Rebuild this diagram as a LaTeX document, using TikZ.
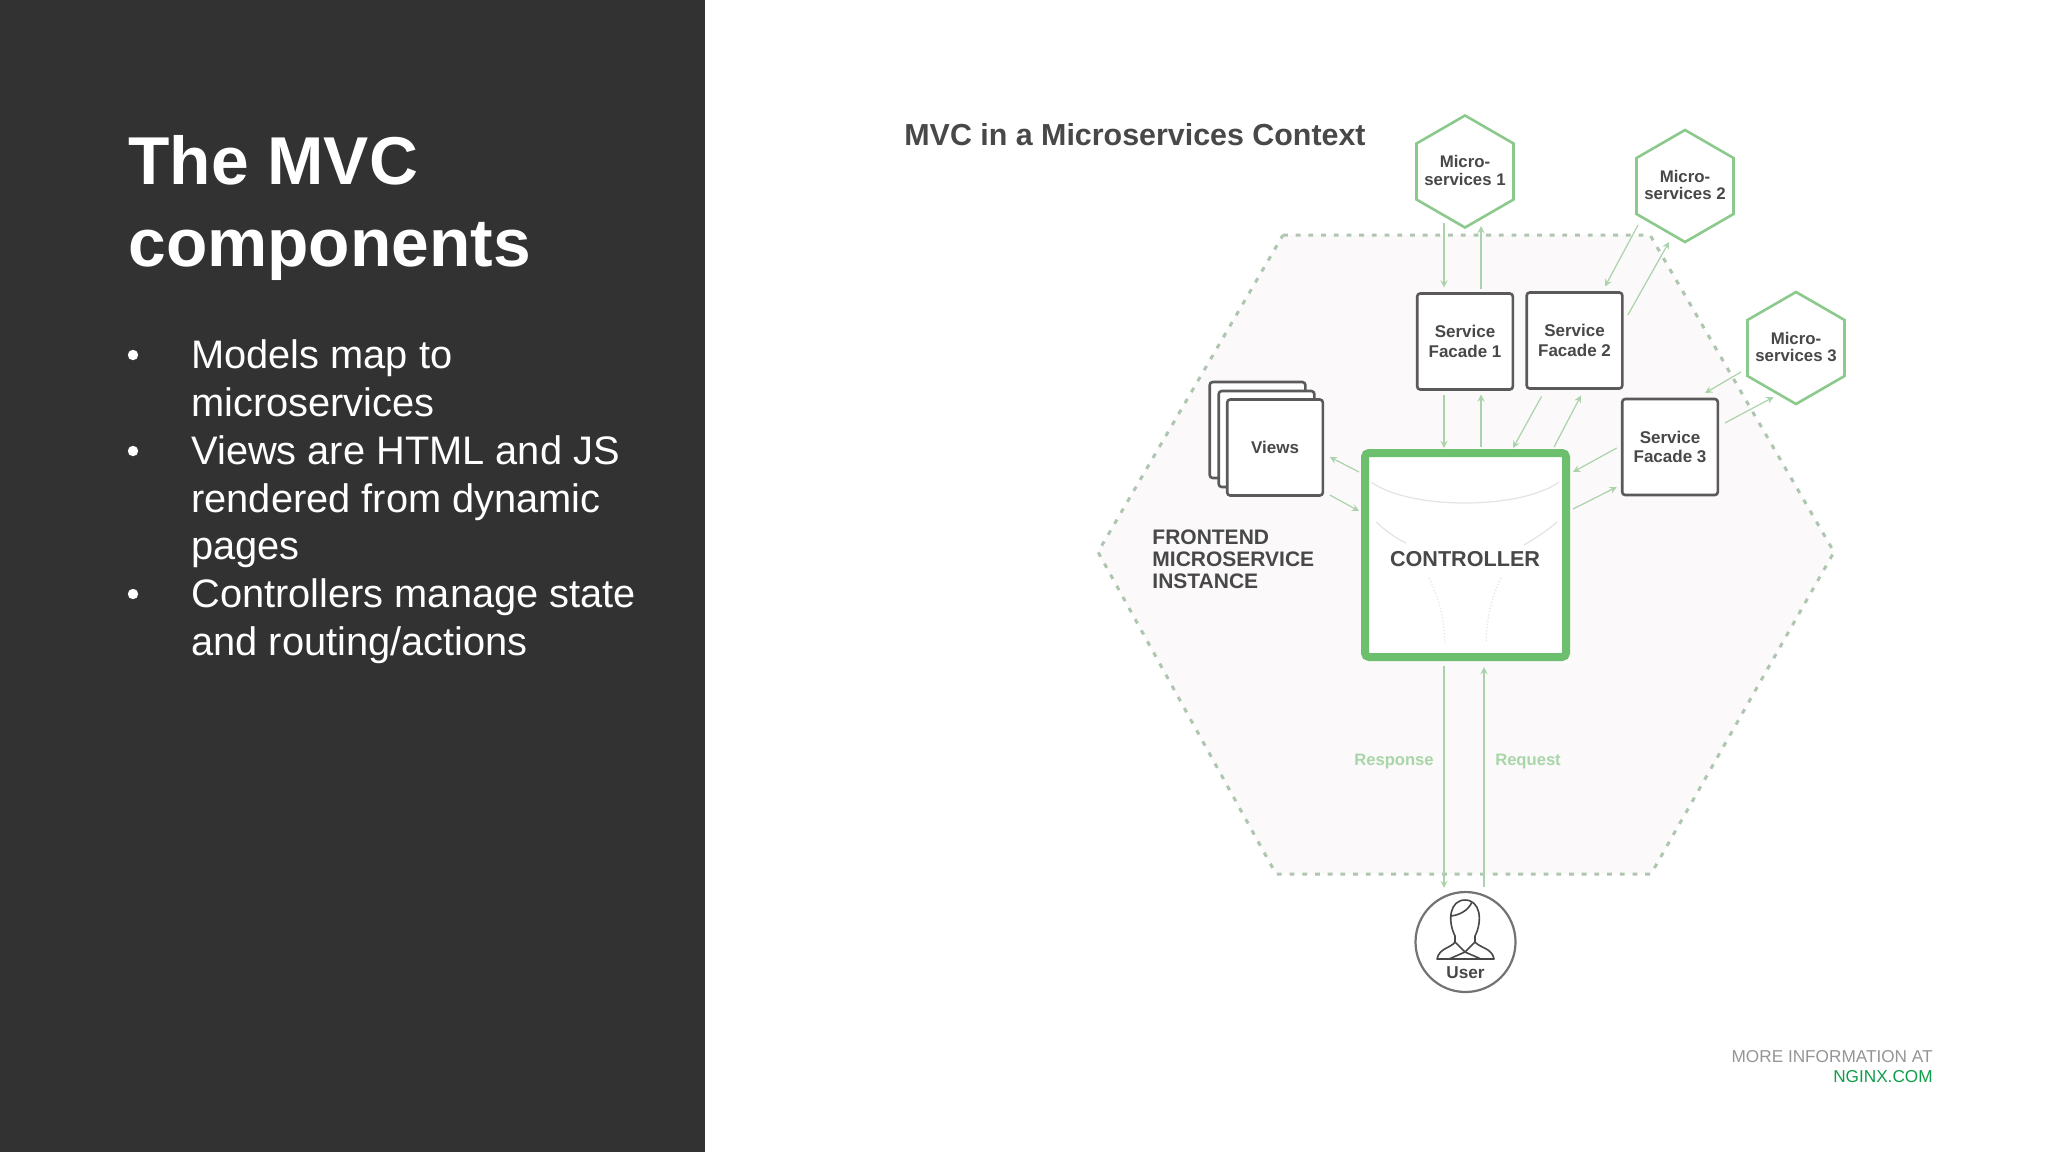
\documentclass[tikz,border=0pt]{standalone}
\usepackage{fontspec}
\setmainfont{Liberation Sans}
\usetikzlibrary{shapes.geometric}
\definecolor{panelgray}{HTML}{323232}
\definecolor{boxgray}{HTML}{5A5A5A}
\definecolor{inkgray}{HTML}{484848}
\definecolor{hexgreen}{HTML}{8CC98C}
\definecolor{ctrlgreen}{HTML}{6CBF6C}
\definecolor{conngreen}{HTML}{ABD3AB}
\definecolor{labelgreen}{HTML}{A9D6A9}
\definecolor{dotgreen}{HTML}{AEC6B0}
\definecolor{hexfill}{HTML}{FBF9F9}
\definecolor{footgray}{HTML}{939598}
\definecolor{footgreen}{HTML}{0F9D4B}
\definecolor{faintgray}{HTML}{E2E4E2}
\tikzset{
    headtext/.style={anchor=north west, inner sep=0pt, text=white, align=left, font=\fontsize{33.85}{41}\selectfont\bfseries},
    bodytext/.style={anchor=north west, inner sep=0pt, text=white, align=left, font=\fontsize{19.9}{23.9}\selectfont},
    servicehex/.style={regular polygon, regular polygon sides=6, shape border rotate=30, minimum size=56pt, inner sep=0pt, outer sep=0pt,
        draw=hexgreen, line width=1.3pt, fill=white},
    hexlabel/.style={inner sep=0pt, text=inkgray, align=center, font=\fontsize{8.4}{8.8}\selectfont\bfseries},
    facadebox/.style={rectangle, rounded corners=1.5pt, minimum width=47.8pt, minimum height=48pt, inner sep=0pt, outer sep=0pt,
        draw=boxgray, line width=1.3pt, fill=white, text=inkgray, align=center, font=\fontsize{8.5}{9.6}\selectfont\bfseries},
    conn/.style={draw=conngreen, line width=0.6pt, -stealth},
    flowlabel/.style={text=labelgreen, inner sep=0pt, font=\fontsize{8.3}{10}\selectfont\bfseries},
    footlabel/.style={anchor=base east, inner sep=0pt, font=\fontsize{8.6}{10}\selectfont},
    faintcurve/.style={draw=faintgray, line width=0.6pt}
}
\begin{document}
\begin{tikzpicture}[x=0.5pt,y=-0.5pt]
    \useasboundingbox (0,0) rectangle (2048,1152);
    \fill[white] (0,0) rectangle (2048,1152);
    \fill[panelgray] (0,0) rectangle (705,1152);

    \node[headtext] (heading) at (128,135.5) {The MVC\\components};
    \node[bodytext] (itemtext1) at (191,339) {Models map to\\microservices};
    \node[bodytext] (itemtext2) at (191,435) {Views are HTML and JS\\rendered from dynamic\\pages};
    \node[bodytext] (itemtext3) at (191,578) {Controllers manage state\\and routing/actions};
    \foreach \bullety in {355, 451, 594}
        \fill[white] (133,\bullety) circle (2.6pt);

    \node[anchor=base west, inner sep=0pt, text=inkgray, font=\fontsize{15.2}{18}\selectfont\bfseries] (ctxtitle) at (904,145.5) {MVC in a Microservices Context};

    \draw[dotgreen, fill=hexfill, line width=1.5pt, dash pattern=on 2.4pt off 3.95pt]
        (1283,235) -- (1650,235) -- (1834,552) -- (1651,874) -- (1276,874) -- (1098,552) -- cycle;

    \node[servicehex] (ms1) at (1465,171.5) {};
    \node[hexlabel] (ms1label) at (1465,170.5) {Micro-\\services 1};
    \node[servicehex] (ms2) at (1685,186) {};
    \node[hexlabel] (ms2label) at (1685,185) {Micro-\\services 2};
    \node[servicehex] (ms3) at (1796,348) {};
    \node[hexlabel] (ms3label) at (1796,347) {Micro-\\services 3};

    \node[facadebox] (sf1) at (1465,341.5) {Service\\Facade 1};
    \node[facadebox] (sf2) at (1574.5,340.5) {Service\\Facade 2};
    \node[facadebox] (sf3) at (1670,447) {Service\\Facade 3};

    \node[facadebox] (viewsback) at (1257.5,430) {};
    \node[facadebox] (viewsmid) at (1266.5,439) {};
    \node[facadebox] (views) at (1275,447.5) {Views};

    \node[rectangle, rounded corners=2pt, minimum width=100.5pt, minimum height=102pt, inner sep=0pt, outer sep=0pt,
        draw=ctrlgreen, line width=4pt, fill=white] (ctrl) at (1465.5,555) {};
    \node[inner sep=0pt, text=inkgray, font=\fontsize{10.8}{13}\selectfont\bfseries] (ctrllabel) at (1465,559) {CONTROLLER};

    \draw[faintcurve] (1371,482) .. controls (1410,510) and (1520,510) .. (1559,482);
    \draw[faintcurve] (1376,522) .. controls (1385,530) and (1395,538) .. (1406,543);
    \draw[faintcurve] (1557,522) .. controls (1548,530) and (1536,538) .. (1524,545);
    \draw[faintcurve, densely dotted] (1429,578) .. controls (1440,600) and (1444,620) .. (1445,643);
    \draw[faintcurve, densely dotted] (1501,578) .. controls (1490,600) and (1487,620) .. (1486,643);

    \node[anchor=north west, inner sep=0pt, text=inkgray, align=left, font=\fontsize{10.5}{11}\selectfont\bfseries] (instlabel) at (1152,529) {FRONTEND\\MICROSERVICE\\INSTANCE};

    \node[circle, minimum size=50pt, inner sep=0pt, outer sep=0pt, draw=boxgray!85, line width=1.1pt, fill=white] (user) at (1465.5,942) {};
    \node[inner sep=0pt, text=inkgray, font=\fontsize{8.6}{10}\selectfont\bfseries] (userlabel) at (1465.5,973) {User};
    \draw[inkgray, line width=0.8pt, line join=round]
        (1455,936) .. controls (1447,920) and (1450,900) .. (1465,900) .. controls (1480,900) and (1483,920) .. (1475,936)
        -- (1475,942) .. controls (1480,948) and (1492,948) .. (1494,959) -- (1437,959)
        .. controls (1439,948) and (1451,948) .. (1455,942) -- cycle;
    \draw[inkgray, line width=0.8pt] (1451,916) .. controls (1459,915) and (1468,911) .. (1472,902);
    \draw[inkgray, line width=0.8pt] (1455,942) -- (1465,952) -- (1475,942);
    \draw[inkgray, line width=0.8pt] (1449,959) -- (1465,952) -- (1481,959);

    \draw[conn] ([shift={(-21,51.5)}]ms1.center) -- ([shift={(-21,-6)}]sf1.north);
    \draw[conn] ([shift={(16,-5)}]sf1.north) -- ([shift={(16,54.5)}]ms1.center);
    \draw[conn] ([shift={(-47,39)}]ms2.center) -- ([shift={(30.5,-6)}]sf2.north);
    \draw[conn] ([shift={(5.5,-25.5)}]sf2.east) -- ([shift={(-16,56)}]ms2.center);
    \draw[conn] ([shift={(-21,5)}]sf1.south) -- ([shift={(-21.5,-5)}]ctrl.north);
    \draw[conn] ([shift={(15.5,-6)}]ctrl.north) -- ([shift={(16,5)}]sf1.south);
    \draw[conn] ([shift={(-33,8)}]sf2.south) -- ([shift={(47.5,-5)}]ctrl.north);
    \draw[conn] ([shift={(88.5,-6)}]ctrl.north) -- ([shift={(6.5,7)}]sf2.south);
    \draw[conn] ([shift={(-5.5,1)}]sf3.west) -- ([shift={(7,-83)}]ctrl.east);
    \draw[conn] ([shift={(7,-46)}]ctrl.east) -- ([shift={(-5.5,40)}]sf3.west);
    \draw[conn] ([shift={(-55,24)}]ms3.center) -- ([shift={(35,-6)}]sf3.north);
    \draw[conn] ([shift={(7,-24)}]sf3.east) -- ([shift={(-22.4,49)}]ms3.center);
    \draw[conn] ([shift={(-6,-83)}]ctrl.west) -- ([shift={(7,9.5)}]views.east);
    \draw[conn] ([shift={(7,47.5)}]views.east) -- ([shift={(-6,-44)}]ctrl.west);
    \draw[conn] ([shift={(-21.5,9)}]ctrl.south) -- ([shift={(-21.5,-4)}]user.north);
    \draw[conn] ([shift={(18.5,-5)}]user.north) -- ([shift={(18.5,10)}]ctrl.south);

    \node[flowlabel] (resplabel) at (1394,761) {Response};
    \node[flowlabel] (reqlabel) at (1528,761) {Request};

    \node[footlabel, text=footgray] (moreinfo) at (1933,1062) {MORE INFORMATION AT};
    \node[footlabel, text=footgreen] (nginx) at (1933,1082) {NGINX.COM};
\end{tikzpicture}
\end{document}
